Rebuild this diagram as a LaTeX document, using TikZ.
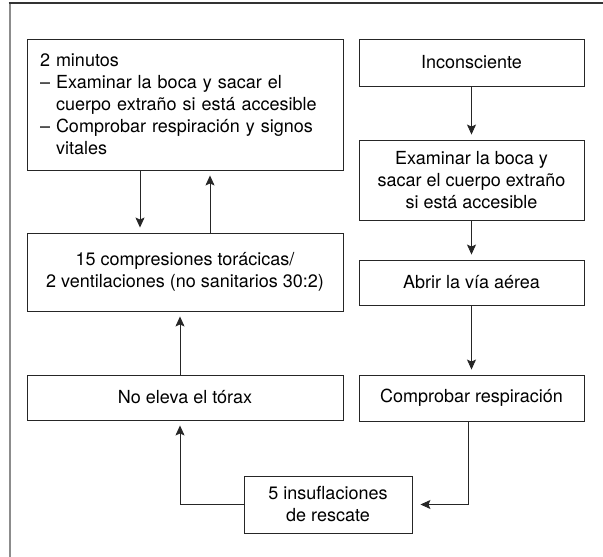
\documentclass[tikz,border=0pt]{standalone}
\usepackage{fontspec}
\setmainfont{TeX Gyre Heros}
\usepackage{tikz}
\usetikzlibrary{arrows.meta}
\usetikzlibrary{positioning}
\tikzset{>={Stealth[length=10pt,width=9pt,inset=2pt]}}

\begin{document}
\begin{tikzpicture}[
	x=1pt, y=-1pt,
	box/.style = {
		rectangle, draw=black!85,
		line width=0.9pt,
		align=center,
		inner sep=0pt,
		font=\fontsize{18}{22}\selectfont
	},
	listbox/.style = {
		box,
		align=left,
		text width=290pt
	},
	link/.style = {
		->, line width=0.9pt, draw=black!85,
		shorten >=5pt
	}
]
	\useasboundingbox (0, 0) rectangle (603, 557);
	% Frame
	\draw[black!45, line width=2pt] (9.5, 557) -- (9.5, 3);
	\draw[black!80, line width=1.6pt] (8.5, 3) -- (603, 3);
	% Left column
	\node[listbox, minimum width=316pt, minimum height=131pt] (check) at (185, 104.5)
		{2 minutos\\
		– Examinar la boca y sacar el\\
		\phantom{– }cuerpo extraño si está accesible\\
		– Comprobar respiración y signos\\
		\phantom{– }vitales};
	\node[box, minimum width=316pt, minimum height=78pt] (cpr) at (185, 272)
		{15 compresiones torácicas/\\2 ventilaciones (no sanitarios 30:2)};
	\node[box, minimum width=316pt, minimum height=45pt] (chest) at (185, 397.5)
		{No eleva el tórax};
	% Right column
	\node[box, minimum width=225pt, minimum height=47pt] (uncon) at (471.5, 62.5)
		{Inconsciente};
	\node[box, minimum width=225pt, minimum height=80pt] (mouth) at (471.5, 180)
		{Examinar la boca y\\sacar el cuerpo extraño\\si está accesible};
	\node[box, minimum width=225pt, minimum height=45pt] (airway) at (471.5, 282.5)
		{Abrir la vía aérea};
	\node[box, minimum width=225pt, minimum height=46pt] (breath) at (471.5, 398)
		{Comprobar respiración};
	% Bottom
	\node[box, minimum width=168pt, minimum height=57pt] (rescue) at (328, 504.5)
		{5 insuflaciones\\de rescate};
	% Connections
	\draw[link] (uncon) -- (mouth);
	\draw[link] (mouth) -- (airway);
	\draw[link] (airway) -- (breath);
	\draw[link, shorten >=8pt] ([xshift=-3pt]breath.south) |- (rescue.east);
	\draw[link] (rescue.west) -| ([xshift=-5pt]chest.south);
	\draw[link] ([xshift=-5pt]chest.north) -- ([xshift=-5pt]cpr.south);
	\draw[link] ([xshift=-45pt]check.south) -- ([xshift=-45pt]cpr.north);
	\draw[link] ([xshift=25pt]cpr.north) -- ([xshift=25pt]check.south);
\end{tikzpicture}
\end{document}
